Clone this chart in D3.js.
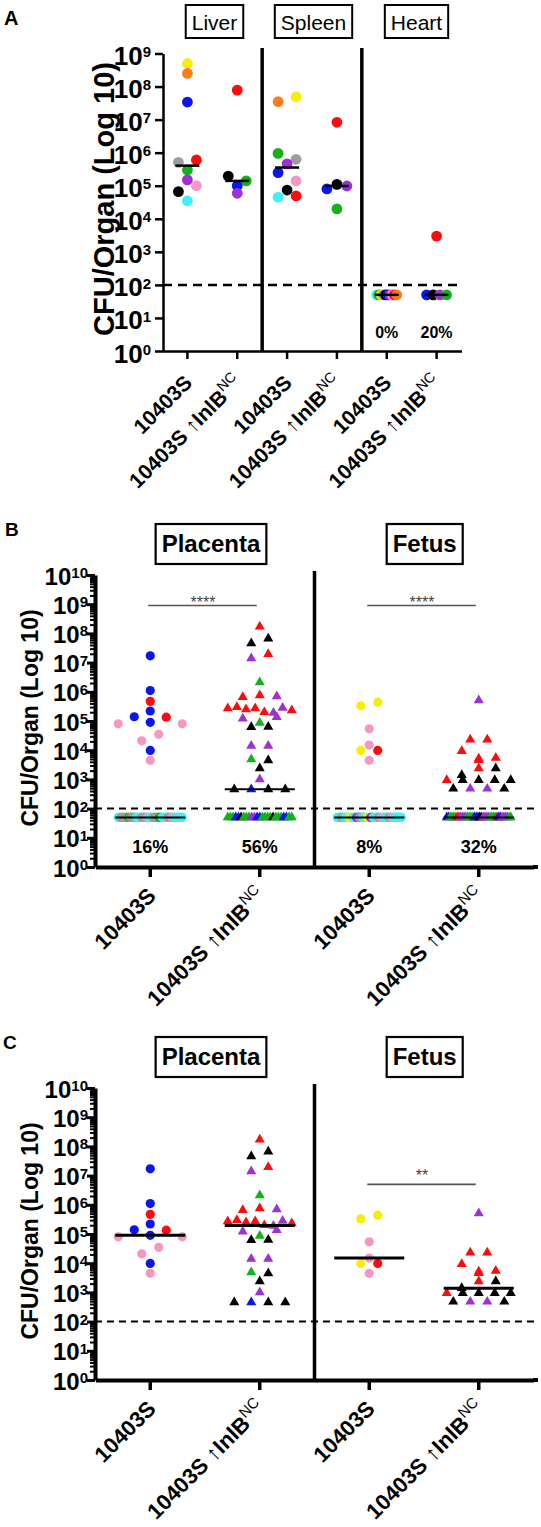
<!DOCTYPE html>
<html>
<head>
<meta charset="utf-8">
<script src="https://cdn.jsdelivr.net/npm/d3@7"></script>
<style>
html,body{margin:0;padding:0;background:#fff;}
svg{display:block;}
</style>
</head>
<body>
<svg id="fig" width="541" height="1527"></svg>
<script>
// ====================== DATA ======================
const panelLetters = ["A", "B", "C"];
const strainNames = ["10403S", "10403S \u2191InlB"];
const strainSup = ["", "NC"];
const yTitle = "CFU/Organ (Log 10)";
const LOD = 50;            // plotted value for samples below the limit of detection
const detectionLimit = 100;

const PALETTE = {
  yellow: "#f8ee00", orange: "#ff7b1c", blue: "#0b16ee", gray: "#9d9d9d", red: "#ff0b0b",
  green: "#15b01c", purple: "#9e31d6", pink: "#f597c0", black: "#000000", cyan: "#3ff0f6"
};

// ---------- Panel A : organ burdens ----------
const organsA = ["Liver", "Spleen", "Heart"];
const liverWT        = [5e8, 2.5e8, 3.4e7, 5.1e5, 6e5, 3e5, 1.5e5, 6.6e4, 1e5, 3.5e4];
const liverWTColor   = ["yellow","orange","blue","gray","red","green","purple","black","pink","cyan"];
const liverInlB      = [7.8e7, 1.95e5, 1.4e5, 1e5, 5.9e4];
const liverInlBColor = ["red","black","green","blue","purple"];
const spleenWT       = [3.5e7, 4.9e7, 9.5e5, 6.3e5, 4.6e5, 2.5e5, 1.4e5, 7.4e4, 4.5e4, 4.9e4];
const spleenWTColor  = ["orange","yellow","green","gray","purple","blue","pink","black","cyan","red"];
const spleenInlB     = [8.3e6, 8e4, 1.1e5, 9.8e4, 2e4];
const spleenInlBColor= ["red","blue","black","purple","green"];
const heartWT        = [50, 50, 50, 50, 50, 50, 50, 50, 50, 50];
const heartWTColor   = ["cyan","green","yellow","gray","black","blue","purple","pink","red","orange"];
const heartInlB      = [3000, 50, 50, 50, 50];
const heartInlBColor = ["red","blue","black","purple","green"];
const heartPct       = ["0%", "20%"];

// ---------- Panels B & C : placenta / fetus ----------
const tissuesBC = ["Placenta", "Fetus"];
// samples above the detection limit
const placentaWT      = [1.7e7, 1.1e6, 4.7e5, 2.2e5, 8e4, 1.4e5, 9e4, 1.35e5, 8e4, 2.1e4, 3.5e4, 9.8e3, 4.5e3];
const placentaWTColor = ["blue","blue","red","blue","pink","blue","blue","red","pink","pink","pink","blue","pink"];
const placentaInlB    = [1.7e8, 4.6e7, 6.6e7, 1.4e7, 1.95e7, 2.1e6, 6.6e5, 7.6e5, 7e5,
                         2.7e5, 3e5, 2.5e5, 2.7e5, 2e5, 1.9e5, 2.8e5, 2.3e5,
                         1.2e5, 8.7e4, 1.35e5, 6.2e4, 6.3e4, 1.4e4, 1.4e4,
                         4.9e3, 4.5e3, 2.4e3, 1e3, 460, 460, 460, 460];
const placentaInlBColor = ["red","black","black","purple","red","green","red","red","purple",
                         "red","red","red","red","red","purple","purple","red",
                         "purple","green","purple","black","black","purple","purple",
                         "green","black","black","purple","black","blue","black","black"];
const fetusWT         = [3.3e5, 4.4e5, 5.4e4, 1.5e4, 9.8e3, 9.8e3, 4.5e3];
const fetusWTColor    = ["yellow","yellow","pink","pink","yellow","red","pink"];
const fetusInlB       = [5.1e5, 2.3e4, 2.3e4, 9.3e3, 5.2e3, 5.5e3, 4.6e3, 1.4e3, 2.4e3, 2.4e3,
                         950, 950, 950, 950, 950, 480, 480, 480, 480];
const fetusInlBColor  = ["purple","red","red","red","red","red","red","black","red","black",
                         "red","black","black","black","black","black","purple","purple","black"];
// samples below the detection limit (litter colour, count) — shown in panel B only
const placentaWTLOD   = [["cyan",3],["gray",8],["green",2],["gray",6],["cyan",6],["gray",5],["pink",2],["cyan",5],
                         ["gray",6],["green",3],["cyan",6],["gray",4],["pink",3],["cyan",6],["pink",1],["cyan",2]];
const placentaInlBLOD = [["green",3],["blue",2],["black",1],["green",3],["purple",2],["blue",2],["green",4],
                         ["black",1],["green",3],["blue",2],["green",2]];
const fetusWTLOD      = [["cyan",5],["gray",3],["cyan",6],["yellow",4],["cyan",4],["purple",3],["gray",4],["cyan",5],
                         ["yellow",4],["purple",3],["cyan",6],["gray",3],["pink",3],["cyan",6],["gray",3],["pink",3],["cyan",9]];
const fetusInlBLOD    = [["blue",2],["green",4],["red",2],["purple",4],["green",4],["blue",3],["black",2],
                         ["purple",4],["green",4],["red",1],["blue",2],["purple",4],["green",2]];
const pctB            = ["16%", "56%", "8%", "32%"];
const sigB            = [{from: 0, to: 1, label: "****", level: 9e8}, {from: 2, to: 3, label: "****", level: 9e8}];
const sigC            = [{from: 2, to: 3, label: "**", level: 5e6}];

// ====================== HELPERS ======================
const FONT = "'Liberation Sans', Arial, Helvetica, sans-serif";
const svg = d3.select("#fig").attr("font-family", FONT);
const colorOf = d3.scaleOrdinal().domain(Object.keys(PALETTE)).range(Object.values(PALETTE));

function pts(values, colors) { return values.map((v, i) => ({ v, c: colors[i] })); }
function lodPts(runs) { return runs.flatMap(([c, n]) => d3.range(n).map(() => ({ v: LOD, c }))); }

// Prism-like column scatter: points in the same value bin sit side by side, centred
function swarm(points, binSize, binOffset, spacing, maxW) {
  const groups = d3.group(points, p => Math.floor((Math.log10(p.v) - binOffset) / binSize + 1e-9));
  for (const arr of groups.values()) {
    const n = arr.length;
    const s = n > 1 ? Math.min(spacing, maxW / (n - 1)) : 0;
    arr.forEach((p, i) => { p.dx = (i - (n - 1) / 2) * s; });
  }
  return points;
}

function tickLabel(g, x, y, exp, fs, sfs) {
  const t = g.append("text").attr("x", x).attr("y", y).attr("text-anchor", "end")
    .attr("font-weight", "bold").attr("font-size", fs);
  t.append("tspan").text("10");
  t.append("tspan").attr("font-size", sfs).attr("dy", -(fs - sfs) * 0.716).text(exp);
}

function catLabel(g, x, y, idx, fs) {
  const t = g.append("text").attr("transform", `translate(${x},${y}) rotate(-45)`)
    .attr("text-anchor", "end").attr("font-size", fs).attr("font-weight", "bold");
  const name = strainNames[idx];
  if (name.includes("\u2191")) {
    const [a, b] = name.split("\u2191");
    t.append("tspan").text(a);
    t.append("tspan").attr("font-weight", "normal").text("\u2191");
    t.append("tspan").text(b);
  } else {
    t.append("tspan").text(name);
  }
  if (strainSup[idx]) {
    t.append("tspan").attr("font-weight", "normal").attr("font-size", fs * 0.68)
      .attr("dy", -fs * 0.42).text(strainSup[idx]);
  }
}

function facetBox(g, cx, top, h, baseline, fs, bold, label, sw) {
  const t = g.append("text").attr("x", cx).attr("y", baseline).attr("text-anchor", "middle")
    .attr("font-size", fs).attr("font-weight", bold ? "bold" : "normal").text(label);
  const w = t.node().getComputedTextLength() + 12;
  g.append("rect").attr("x", cx - w / 2).attr("y", top).attr("width", w).attr("height", h)
    .attr("fill", "none").attr("stroke", "#000").attr("stroke-width", sw);
}

// ====================== PANEL A ======================
(function () {
  const g = svg.append("g");
  const y = d3.scaleLog().domain([1, 1e9]).range([351, 53.5]);
  const x = d3.scaleBand().domain(d3.range(6)).range([162.5, 461.5]);
  const cx = i => x(i) + x.bandwidth() / 2;

  g.append("text").attr("x", 4).attr("y", 25).attr("font-size", 20).attr("font-weight", "bold").text(panelLetters[0]);

  const boxCenters = [214.5, 313.5, 416.5];
  organsA.forEach((o, i) => facetBox(g, boxCenters[i], 5, 33, 30, 21, false, o, 2));

  // separators
  [2, 4].forEach(i => g.append("line").attr("x1", x(i)).attr("x2", x(i)).attr("y1", 48).attr("y2", 351)
    .attr("stroke", "#000").attr("stroke-width", 3.5));

  // axes
  const decades = d3.range(0, 10).map(e => 10 ** e);
  g.append("g").attr("transform", "translate(163,0)")
    .call(d3.axisLeft(y).tickValues(decades).tickSize(8).tickSizeOuter(0).tickFormat(""))
    .call(s => s.selectAll("path,line").attr("stroke", "#000").attr("stroke-width", 2.5));
  decades.forEach((d, e) => tickLabel(g, 151, y(d) + 11.5, String(e), 26, 15));
  g.append("g").attr("transform", "translate(0,351)")
    .call(d3.axisBottom(x).tickSize(8).tickSizeOuter(0).tickFormat(""))
    .call(s => s.selectAll("path,line").attr("stroke", "#000").attr("stroke-width", 2.5));

  // limit of detection
  g.append("line").attr("x1", 163).attr("x2", 461).attr("y1", y(detectionLimit)).attr("y2", y(detectionLimit))
    .attr("stroke", "#000").attr("stroke-width", 2.5).attr("stroke-dasharray", "9,6");

  const groups = [pts(liverWT, liverWTColor), pts(liverInlB, liverInlBColor),
                  pts(spleenWT, spleenWTColor), pts(spleenInlB, spleenInlBColor),
                  pts(heartWT, heartWTColor), pts(heartInlB, heartInlBColor)];
  groups.forEach((arr, i) => {
    swarm(arr, 0.3, 0, 18, 20);
    g.selectAll(null).data(arr).join("circle")
      .attr("cx", p => cx(i) + p.dx).attr("cy", p => y(p.v)).attr("r", 5.4)
      .attr("fill", p => colorOf(p.c));
    const m = d3.median(arr, p => p.v);
    g.append("line").attr("x1", cx(i) - 12).attr("x2", cx(i) + 12).attr("y1", y(m)).attr("y2", y(m))
      .attr("stroke", "#000").attr("stroke-width", 2.5);
    catLabel(g, cx(i) + 6, 351 + 33, i % 2, 21);
  });
  heartPct.forEach((t, k) => g.append("text").attr("x", cx(4 + k)).attr("y", 338).attr("text-anchor", "middle")
    .attr("font-size", 16).attr("font-weight", "bold").text(t));

  g.append("text").attr("transform", "translate(114,199) rotate(-90)").attr("text-anchor", "middle")
    .attr("font-size", 29).attr("font-weight", "bold").text(yTitle);
})();

// ====================== PANELS B & C ======================
function drawBC(opt) {
  const g = svg.append("g");
  const o = opt.dy;
  const y = d3.scaleLog().domain([1, 1e10]).range([867 + o, 575 + o]);
  const x = d3.scaleBand().domain(d3.range(4)).range([95.5, 533.5]);
  const cx = i => x(i) + x.bandwidth() / 2;
  const base = 867 + o;

  g.append("text").attr("x", opt.letterX).attr("y", 536 + o).attr("font-size", 19).attr("font-weight", "bold").text(opt.letter);
  const boxCenters = [211, 424.7];
  tissuesBC.forEach((t, i) => facetBox(g, boxCenters[i], 524 + o, 40, 552 + o, 24, true, t, 2.2));

  g.append("line").attr("x1", x(2)).attr("x2", x(2)).attr("y1", 571 + o).attr("y2", base)
    .attr("stroke", "#000").attr("stroke-width", 3.5);

  // y axis with minor ticks
  const decades = d3.range(0, 11).map(e => 10 ** e);
  const minors = d3.range(0, 10).flatMap(e => d3.range(2, 10).map(k => k * 10 ** e));
  g.append("g").attr("transform", "translate(95,0)")
    .call(d3.axisLeft(y).tickValues(minors).tickSize(5).tickSizeOuter(0).tickFormat(""))
    .call(s => { s.select(".domain").remove(); s.selectAll("line").attr("stroke", "#000").attr("stroke-width", 2); });
  g.append("g").attr("transform", "translate(95,0)")
    .call(d3.axisLeft(y).tickValues(decades).tickSize(8).tickSizeOuter(0).tickFormat(""))
    .call(s => { s.selectAll("line").attr("stroke", "#000").attr("stroke-width", 3);
                 s.select(".domain").attr("stroke", "#000").attr("stroke-width", 4); });
  decades.forEach((d, e) => tickLabel(g, 88, y(d) + 9.5, String(e), 24, 15));

  g.append("g").attr("transform", `translate(0,${base})`)
    .call(d3.axisBottom(x).tickSize(10).tickSizeOuter(0).tickFormat(""))
    .call(s => { s.selectAll("line").attr("stroke", "#000").attr("stroke-width", 3.5);
                 s.select(".domain").attr("stroke", "#000").attr("stroke-width", 4); });
  g.append("line").attr("x1", 533).attr("x2", 538).attr("y1", base).attr("y2", base)
    .attr("stroke", "#000").attr("stroke-width", 4);

  g.append("line").attr("x1", 95).attr("x2", 538).attr("y1", y(detectionLimit)).attr("y2", y(detectionLimit))
    .attr("stroke", "#000").attr("stroke-width", 2).attr("stroke-dasharray", "7,5");

  opt.groups.forEach((grp, i) => {
    const arr = swarm(grp.points, 0.3, 0.1, 17, 64);
    const sel = g.selectAll(null).data(arr);
    if (grp.shape === "circle") {
      sel.join("circle").attr("cx", p => cx(i) + p.dx).attr("cy", p => y(p.v)).attr("r", 4.6)
        .attr("fill", p => colorOf(p.c));
    } else {
      sel.join("path").attr("d", d3.symbol(d3.symbolTriangle, 44))
        .attr("transform", p => `translate(${cx(i) + p.dx},${y(p.v)})`)
        .attr("fill", p => colorOf(p.c));
    }
    const m = d3.median(arr, p => p.v);
    g.append("line").attr("x1", cx(i) - 35).attr("x2", cx(i) + 35).attr("y1", y(m)).attr("y2", y(m))
      .attr("stroke", "#000").attr("stroke-width", opt.medianW);
    catLabel(g, cx(i) + 7, base + 30, i % 2, 22);
  });

  if (opt.pct) opt.pct.forEach((t, i) => g.append("text").attr("x", cx(i)).attr("y", 853 + o)
    .attr("text-anchor", "middle").attr("font-size", 18).attr("font-weight", "bold").text(t));

  opt.sig.forEach(s => {
    const ly = y(s.level);
    g.append("line").attr("x1", cx(s.from) - 2).attr("x2", cx(s.to) - 3).attr("y1", ly).attr("y2", ly)
      .attr("stroke", "#555").attr("stroke-width", 1.6);
    g.append("text").attr("x", (cx(s.from) + cx(s.to)) / 2 - 2).attr("y", ly + opt.sigDy)
      .attr("text-anchor", "middle").attr("font-size", 16).attr("fill", "#444").text(s.label);
  });

  g.append("text").attr("transform", `translate(38,${718 + o}) rotate(-90)`).attr("text-anchor", "middle")
    .attr("font-size", 23).attr("font-weight", "bold").text(yTitle);
}

drawBC({
  letter: panelLetters[1], letterX: 5, dy: 0, medianW: 2, sigDy: 2, pct: pctB, sig: sigB,
  groups: [
    { shape: "circle",   points: lodPts(placentaWTLOD).concat(pts(placentaWT, placentaWTColor)) },
    { shape: "triangle", points: lodPts(placentaInlBLOD).concat(pts(placentaInlB, placentaInlBColor)) },
    { shape: "circle",   points: lodPts(fetusWTLOD).concat(pts(fetusWT, fetusWTColor)) },
    { shape: "triangle", points: lodPts(fetusInlBLOD).concat(pts(fetusInlB, fetusInlBColor)) }
  ]
});
drawBC({
  letter: panelLetters[2], letterX: 3, dy: 513, medianW: 3, sigDy: -3, pct: null, sig: sigC,
  groups: [
    { shape: "circle",   points: pts(placentaWT, placentaWTColor) },
    { shape: "triangle", points: pts(placentaInlB, placentaInlBColor) },
    { shape: "circle",   points: pts(fetusWT, fetusWTColor) },
    { shape: "triangle", points: pts(fetusInlB, fetusInlBColor) }
  ]
});
</script>
</body>
</html>
